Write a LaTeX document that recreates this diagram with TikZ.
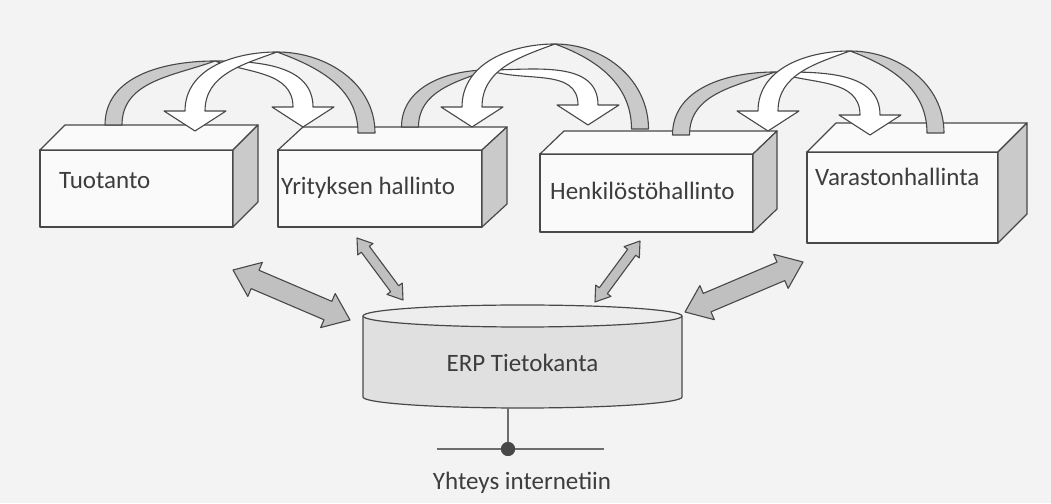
\documentclass[tikz,border=0pt]{standalone}
\usepackage{fontspec}
\setmainfont{Carlito}
\usetikzlibrary{calc,positioning}

\definecolor{paper}{RGB}{243,243,243}
\definecolor{ink}{RGB}{72,72,72}
\definecolor{shade}{RGB}{202,202,202}
\definecolor{arrowgray}{RGB}{192,192,192}
\definecolor{dbfill}{RGB}{224,224,224}
\definecolor{dbtop}{RGB}{237,237,237}

% top and right faces of a box drawn on its front node
\newcommand{\boxfaces}[3]{%
  \draw[face] (#1.north west) -- ++(#2,#3) -- ($(#1.north east)+(#2,#3)$) -- (#1.north east) -- cycle;
  \draw[side] (#1.north east) -- ++(#2,#3) -- ($(#1.south east)+(#2,#3)$) -- (#1.south east) -- cycle;}

% curved ribbon arrow: tail, peak, tip, direction (1 = to the right, -1 = to the left)
\newcommand{\bentarrow}[4]{%
  \pgfmathsetmacro\ina{90+90*#4}%
  \pgfmathsetmacro\inb{90+110*#4}%
  \pgfmathsetmacro\outa{90-90*#4}%
  \pgfmathsetmacro\inc{90-110*#4}%
  \draw[underside] ($(#1)+({-8.5*#4},0)$) to[out=90,in=\ina] (#2)
    to[out=\inb,in=90] ($(#1)+({8.5*#4},0)$) -- cycle;
  \draw[ribbon] (#2) to[out=\outa,in=90] ($(#3)+({10*#4},20)$)
    -- ($(#3)+({31*#4},20)$) -- (#3) -- ($(#3)+({-31*#4},20)$)
    -- ($(#3)+({-10*#4},20)$) to[out=90,in=\inc] (#2) -- cycle;}

% straight block arrow with two heads: from, to, half shaft, half head, head length
\newcommand{\dblarrow}[5]{%
  \draw[dbl] (#1)
    -- ($(#1)!#5!(#2)!#4!90:(#2)$) -- ($(#1)!#5!(#2)!#3!90:(#2)$)
    -- ($(#2)!#5!(#1)!#3!-90:(#1)$) -- ($(#2)!#5!(#1)!#4!-90:(#1)$)
    -- (#2)
    -- ($(#2)!#5!(#1)!#4!90:(#1)$) -- ($(#2)!#5!(#1)!#3!90:(#1)$)
    -- ($(#1)!#5!(#2)!#3!-90:(#2)$) -- ($(#1)!#5!(#2)!#4!-90:(#2)$)
    -- cycle;}

\begin{document}
\begin{tikzpicture}[
  x=1pt, y=1pt,
  line join=round,
  front/.style={draw=ink, line width=1.2pt, fill=paper!40!white, inner sep=0pt, outer sep=0pt},
  face/.style={draw=ink, line width=1.2pt, fill=paper!40!white},
  side/.style={draw=ink, line width=1.2pt, fill=shade},
  lbl/.style={font=\fontsize{25}{30}\selectfont, text=ink!85!black, inner sep=0pt},
  underside/.style={draw=ink, line width=1.1pt, fill=shade},
  ribbon/.style={draw=ink, line width=1.1pt, fill=white},
  dbl/.style={draw=ink, line width=1.1pt, fill=arrowgray},
  dbbody/.style={inner sep=0pt, outer sep=0pt},
  wire/.style={draw=ink!80, line width=1.3pt},
  netdot/.style={circle, fill=ink, inner sep=0pt, minimum size=14pt}
]
\fill[paper] (0,0) rectangle (1051,503);
\useasboundingbox (0,0) rectangle (1051,503);

% modules
\node[front, minimum width=193pt, minimum height=77pt] (tuo) at (136.5,314.5) {};
\boxfaces{tuo}{25}{25}
\node[front, minimum width=204pt, minimum height=77pt] (yri) at (380,314.5) {};
\boxfaces{yri}{25}{23}
\node[front, minimum width=213pt, minimum height=78pt] (hen) at (646.5,310) {};
\boxfaces{hen}{24}{23}
\node[front, minimum width=191pt, minimum height=91pt] (var) at (902.5,305.5) {};
\boxfaces{var}{29}{29}

\node[lbl, anchor=base west] (tuo-txt) at (59,314) {Tuotanto};
\node[lbl, anchor=base west] (yri-txt) at (281,308) {Yrityksen hallinto};
\node[lbl, anchor=base west] (hen-txt) at (550,303) {Henkilöstöhallinto};
\node[lbl, anchor=base west] (var-txt) at (815,317) {Varastonhallinta};

% ends of the curved arrows
\coordinate (tuo-out) at (113.5,378);
\coordinate (tuo-in) at (195,372);
\coordinate (yri-out) at (366.5,370);
\coordinate (yri-out2) at (410,376);
\coordinate (yri-in) at (303,376);
\coordinate (yri-in2) at (472,376);
\coordinate (hen-out) at (640,374);
\coordinate (hen-out2) at (681,368);
\coordinate (hen-in) at (588,378);
\coordinate (hen-in2) at (768,372);
\coordinate (var-out) at (935.5,370);
\coordinate (var-in) at (870,368);
\coordinate (top1) at (215,442);
\coordinate (top2) at (277,451);
\coordinate (top3) at (488,433);
\coordinate (top4) at (555,459);
\coordinate (top5) at (775,431);
\coordinate (top6) at (850,452);

\bentarrow{tuo-out}{top1}{yri-in}{1}
\bentarrow{yri-out}{top2}{tuo-in}{-1}
\bentarrow{yri-out2}{top3}{hen-in}{1}
\bentarrow{hen-out}{top4}{yri-in2}{-1}
\bentarrow{hen-out2}{top5}{var-in}{1}
\bentarrow{var-out}{top6}{hen-in2}{-1}

% database
\node[dbbody, minimum width=319pt, minimum height=81pt] (erp) at (522.5,146.5) {};
\draw[draw=ink, line width=1.2pt, fill=dbfill] (erp.north west) -- (erp.south west)
  arc[start angle=180, end angle=360, x radius=159.5, y radius=11] -- (erp.north east) -- cycle;
\draw[draw=ink, line width=1.2pt, fill=dbtop] (erp.north) ellipse[x radius=159.5, y radius=11];
\node[lbl, anchor=base] (erp-txt) at (522.5,131) {ERP Tietokanta};

% block arrows between modules and database
\coordinate (a1) at (233,233);  \coordinate (a1db) at (350,183);
\coordinate (a2) at (357,265);  \coordinate (a2db) at (403,203);
\coordinate (a3) at (640,262);  \coordinate (a3db) at (595,201);
\coordinate (a4) at (803,241);  \coordinate (a4db) at (685,191);
\dblarrow{a1}{a1db}{10pt}{18.5pt}{24pt}
\dblarrow{a2}{a2db}{5pt}{9.5pt}{14pt}
\dblarrow{a3}{a3db}{5pt}{9.5pt}{14pt}
\dblarrow{a4}{a4db}{10pt}{18.5pt}{24pt}

% internet connection
\coordinate (erp-base) at (508,95);
\coordinate (wl) at (437,54);
\coordinate (wr) at (604,54);
\node[netdot] (net) at (508,54) {};
\draw[wire] (wl) -- (net) -- (wr);
\draw[wire] (erp-base) -- (net);
\node[netdot] at (net) {};
\node[lbl, anchor=base] (net-txt) at (522,14) {Yhteys internetiin};

\end{tikzpicture}
\end{document}
